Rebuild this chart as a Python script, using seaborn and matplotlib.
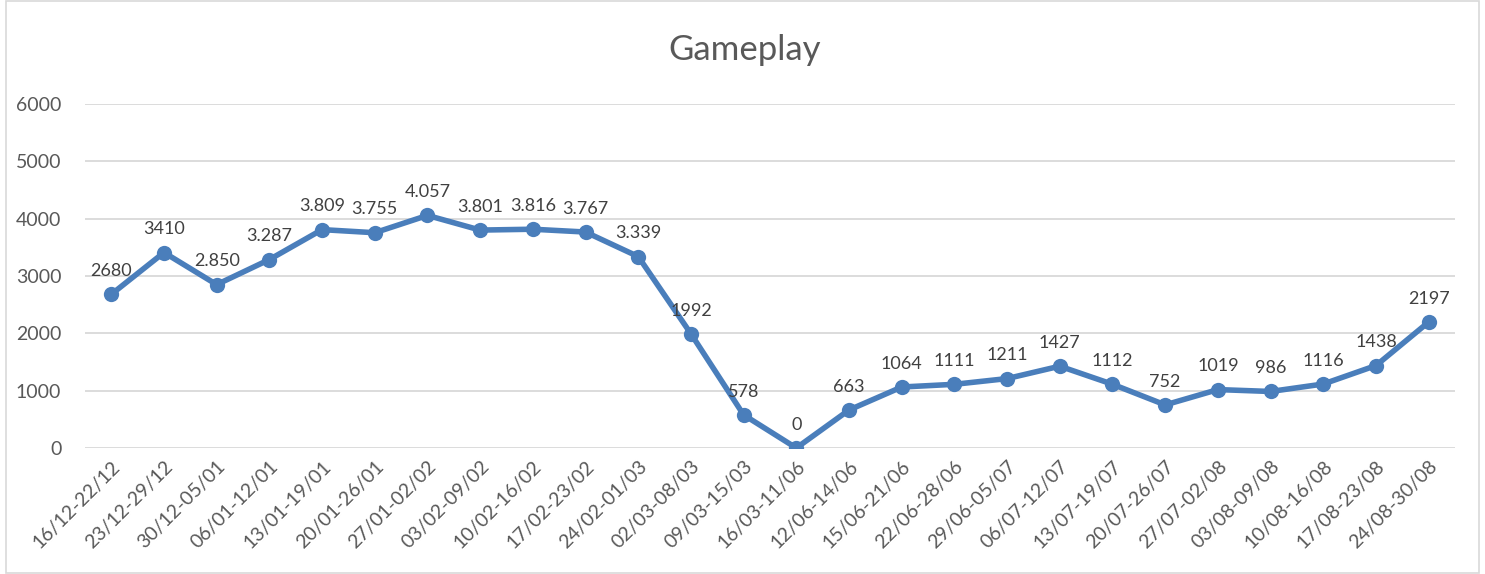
import pandas as pd
import matplotlib.pyplot as plt
import seaborn as sns
from matplotlib.patches import Rectangle

# weekly gameplay values
weeks = ['16/12-22/12', '23/12-29/12', '30/12-05/01', '06/01-12/01', '13/01-19/01',
         '20/01-26/01', '27/01-02/02', '03/02-09/02', '10/02-16/02', '17/02-23/02',
         '24/02-01/03', '02/03-08/03', '09/03-15/03', '16/03-11/06', '12/06-14/06',
         '15/06-21/06', '22/06-28/06', '29/06-05/07', '06/07-12/07', '13/07-19/07',
         '20/07-26/07', '27/07-02/08', '03/08-09/08', '10/08-16/08', '17/08-23/08',
         '24/08-30/08']
gameplay = [2680, 3410, 2850, 3287, 3809, 3755, 4057, 3801, 3816, 3767, 3339, 1992,
            578, 0, 663, 1064, 1111, 1211, 1427, 1112, 752, 1019, 986, 1116, 1438, 2197]
# data labels as they appear on the chart (mixed formatting)
point_labels = ['2680', '3410', '2.850', '3.287', '3.809', '3.755', '4.057', '3.801',
                '3.816', '3.767', '3.339', '1992', '578', '0', '663', '1064', '1111',
                '1211', '1427', '1112', '752', '1019', '986', '1116', '1438', '2197']
y_ticks = [0, 1000, 2000, 3000, 4000, 5000, 6000]

df = pd.DataFrame({'pos': range(len(weeks)), 'week': weeks, 'value': gameplay})

sns.set_style('white')
plt.rcParams['font.family'] = ['Lato', 'DejaVu Sans']

text_col = '#595959'
line_col = '#4a7ebb'

fig = plt.figure(figsize=(14.85, 5.74), dpi=100)
ax = fig.add_axes([0.0572, 0.2195, 0.9226, 0.5993])

sns.lineplot(data=df, x='pos', y='value', ax=ax, color=line_col, linewidth=4,
             marker='o', markersize=11, markeredgewidth=0)

for x, y, lab in zip(df['pos'], df['value'], point_labels):
    ax.annotate(lab, (x, y), xytext=(0, 11), textcoords='offset points',
                ha='center', va='bottom', fontsize=13, color='#404040')

ax.set_xlim(-0.5, len(weeks) - 0.5)
ax.set_ylim(0, 6000)
ax.set_yticks(y_ticks)
ax.set_yticklabels([str(t) for t in y_ticks], fontsize=14, color=text_col)
ax.set_xticks(df['pos'])
ax.set_xticklabels(weeks, rotation=45, ha='right', rotation_mode='anchor',
                   fontsize=14, color=text_col)
ax.tick_params(axis='both', length=0)
ax.tick_params(axis='y', pad=17)
ax.tick_params(axis='x', pad=7)
ax.grid(axis='y', color='#d9d9d9', linewidth=1.3)
ax.set_axisbelow(True)
for s in ax.spines.values():
    s.set_visible(False)
ax.set_xlabel('')
ax.set_ylabel('')

fig.text(0.5015, 0.913, 'Gameplay', ha='center', va='center', fontsize=25, color=text_col)

# outer chart border
fig.patches.append(Rectangle((0.004, 0.002), 0.992, 0.996, transform=fig.transFigure,
                             fill=False, edgecolor='#d9d9d9', linewidth=1.2))

fig.savefig('out.png', dpi=100, facecolor='white')
